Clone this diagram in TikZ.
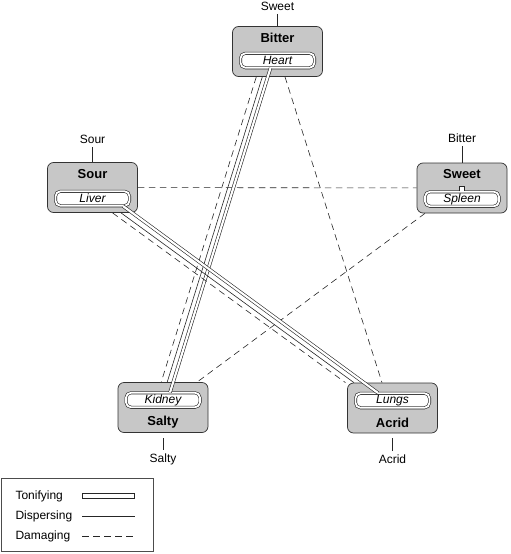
\documentclass[tikz,border=0pt]{standalone}
\usepackage{fontspec}
\setmainfont{Liberation Sans}
\usetikzlibrary{arrows}

\begin{document}
\begin{tikzpicture}[x=1pt,y=-1pt,font=\fontsize{12}{14}\selectfont,
  organ/.style={shape=rectangle,draw=black!80,fill=black!22,rounded corners=6pt,minimum width=90pt,minimum height=50pt,line width=0.7pt},
  seat/.style={shape=rectangle,draw=black!85,double,double distance=1.8pt,line width=0.6pt,fill=white,rounded corners=5pt,minimum width=74pt,minimum height=14.5pt,inner sep=0pt,font=\fontsize{12}{14}\selectfont\itshape},
  taste/.style={font=\fontsize{13}{15}\selectfont\bfseries},
  tonify/.style={draw=black!85,double,double distance=2.2pt,line width=0.6pt},
  disperse/.style={draw=black!85,line width=0.6pt},
  damage/.style={draw=black!85,line width=0.6pt,dash pattern=on 6.5pt off 4.5pt}]
\useasboundingbox (0,0) rectangle (511,554);

% the five organs
\node(heart)[organ] at (277.5,51.5){};
\node(bitter)[taste] at (277.5,38){Bitter};
\node(heartin)[seat] at (277.5,60.5){Heart};
\node(liver)[organ] at (92.5,187.5){};
\node(sour)[taste] at (92.5,174){Sour};
\node(liverin)[seat] at (92.5,198.5){Liver};
\node(spleen)[organ] at (462,188){};
\node(sweet)[taste] at (462,174.5){Sweet};
\node(spleenin)[seat] at (462,199){Spleen};
\node(kidney)[organ] at (163,407.5){};
\node(kidneyin)[seat] at (163,400){Kidney};
\node(salty)[taste] at (163,422){Salty};
\node(lungs)[organ] at (392.5,408){};
\node(lungsin)[seat] at (392.5,400.5){Lungs};
\node(acrid)[taste] at (392.5,422.5){Acrid};

% outer labels
\node(hlab) at (277.5,6){Sweet};
\node(llab) at (92.5,139){Sour};
\node(slab) at (462,138.5){Bitter};
\node(klab) at (163,459){Salty};
\node(lulab) at (392.5,459){Acrid};
\draw[disperse] (hlab) -- (heart);
\draw[disperse] (llab) -- (liver);
\draw[disperse] (slab) -- (spleen);
\draw[disperse,shorten >=5pt] (klab) -- (kidney);
\draw[disperse,shorten >=5pt] (lulab) -- (lungs);

% damaging lines
\draw[damage] (liver) -- (spleen);
\draw[damage] ([xshift=7.5]heart.south) -- ([xshift=-10.5]lungs.north);
\draw[damage] ([xshift=-37]spleen.south) -- ([xshift=34]kidney.north);

% heart - kidney
\draw[damage] ([xshift=-21.2]heart.south) -- ([xshift=-1.8]kidney.north);
\draw[disperse] ([xshift=-15.2]heart.south) -- ([xshift=4.2]kidney.north);
\draw[tonify] ([xshift=-7]heartin.south) -- ([xshift=7]kidneyin.north);

% liver - lungs
\draw[damage] ([xshift=20]liver.south) -- ([xshift=-47]lungs.north);
\draw[disperse] ([xshift=28.5]liver.south) -- ([xshift=-38.5]lungs.north);
\draw[tonify] ([xshift=30.5]liverin.south) -- ([xshift=-14.5]lungsin.north);

% stub on the spleen
\draw[disperse,fill=white] ([xshift=-2.5]spleenin.north) -- ++(0,-5.5) -- ++(5,0) -- ++(0,5.5);

% legend
\node(legend)[shape=rectangle,draw=black!70,line width=0.6pt,minimum width=152pt,minimum height=73pt] at (77,515){};
\node(toni)[anchor=west] at (12,496){Tonifying};
\node(disp)[anchor=west] at (12,516){Dispersing};
\node(dama)[anchor=west] at (12,536){Damaging};
\node(tonikey)[shape=rectangle,draw=black!85,line width=0.6pt,fill=white,minimum width=52pt,minimum height=4.5pt,inner sep=0pt] at (108.5,496){};
\coordinate (dispa) at (82,516);
\coordinate (dispb) at (135,516);
\coordinate (damaa) at (82,536);
\coordinate (damab) at (135,536);
\draw[disperse] (dispa) -- (dispb);
\draw[damage] (damaa) -- (damab);
\end{tikzpicture}
\end{document}
